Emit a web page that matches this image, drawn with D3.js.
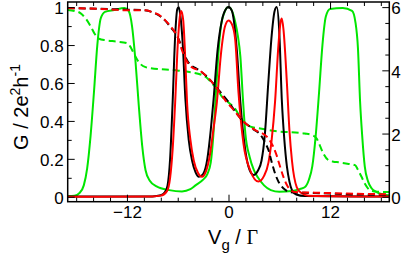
<!DOCTYPE html>
<html>
<head>
<meta charset="utf-8">
<script src="https://cdn.jsdelivr.net/npm/d3@7"></script>
<style>
  body { margin: 0; background: #fff; }
  text { font-family: "Liberation Sans", Arial, sans-serif; fill: #000; }
</style>
</head>
<body>
<svg id="chart" width="403" height="262"></svg>
<script>
// x ticks and labels
const xMajorTicks = [-12, 0, 12];
const xMinorTicks = [-18, -16, -14, -10, -8, -6, -4, -2, 2, 4, 6, 8, 10, 14, 16, 18];
const yLeftTicks = [0, 0.2, 0.4, 0.6, 0.8, 1];
const yLeftLabels = ['0', '0.2', '0.4', '0.6', '0.8', '1'];
const yRightTicks = [0, 2, 4, 6];

// solid curves: conductance G (left axis), [Vg, G]
const greenSolid = [[-19,0.004],[-18.2,0.006],[-17.6,0.02],[-17.1,0.06],[-16.7,0.15],[-16.3,0.32],[-15.9,0.55],
  [-15.5,0.8],[-15.1,0.94],[-14.6,0.975],[-13.5,0.985],[-12.3,0.995],[-11.8,0.98],[-11.4,0.9],[-11.0,0.72],
  [-10.6,0.48],[-10.2,0.27],[-9.8,0.14],[-9.3,0.085],[-8.5,0.055],[-7,0.035],[-5.5,0.028],[-4.5,0.04],
  [-3.9,0.06],[-3,0.09],[-2.5,0.12],[-2.1,0.18],[-1.8,0.32],[-1.55,0.5],[-1.25,0.72],[-0.95,0.88],[-0.5,0.97],
  [0,1.0],[0.5,0.97],[0.8,0.92],[1.1,0.85],[1.4,0.74],[1.7,0.52],[2.0,0.33],[2.5,0.21],[3,0.14],[3.5,0.1],
  [4.2,0.06],[5,0.035],[6,0.026],[7.5,0.03],[8.5,0.042],[9.0,0.05],[9.5,0.09],[9.9,0.16],[10.3,0.32],
  [10.7,0.55],[11.1,0.8],[11.5,0.95],[12,0.99],[13.5,0.995],[14.6,0.98],[15.0,0.92],[15.3,0.78],[15.55,0.5],
  [15.8,0.32],[16.1,0.16],[16.5,0.08],[16.9,0.045],[17.5,0.025],[18.3,0.012],[19,0.008]];

const blackSolid = [[-19,0.001],[-9,0.002],[-8,0.008],[-7.5,0.025],[-7.2,0.06],[-6.9,0.2],[-6.6,0.5],
  [-6.3,0.85],[-6.05,0.99],[-5.9,1.0],[-5.7,0.96],[-5.4,0.8],[-5.1,0.52],[-4.7,0.3],[-4.3,0.19],[-3.9,0.13],
  [-3.5,0.105],[-3.0,0.12],[-2.5,0.2],[-2.1,0.35],[-1.77,0.51],[-1.3,0.77],[-0.78,0.93],[-0.3,0.99],[0,1.0],
  [0.4,0.98],[0.99,0.77],[1.38,0.51],[1.97,0.25],[2.5,0.14],[2.95,0.115],[3.5,0.14],[3.9,0.19],[4.3,0.33],
  [4.7,0.6],[5.1,0.85],[5.45,0.98],[5.7,1.0],[6.0,0.87],[6.3,0.51],[6.6,0.3],[6.9,0.16],[7.2,0.08],
  [7.5,0.035],[8,0.012],[9,0.004],[19,0.001]];

const redSolid = [[-19,0.0],[-9,0.002],[-8,0.006],[-7.27,0.03],[-6.9,0.1],[-6.6,0.25],[-6.3,0.5],[-6.0,0.8],
  [-5.75,0.95],[-5.58,0.98],[-5.35,0.93],[-5.1,0.72],[-4.9,0.5],[-4.5,0.3],[-4.1,0.19],[-3.6,0.125],
  [-3.14,0.105],[-2.7,0.13],[-2.2,0.22],[-1.8,0.35],[-1.37,0.5],[-0.9,0.75],[-0.4,0.9],[0,0.93],[0.4,0.91],
  [0.79,0.83],[1.18,0.55],[1.77,0.28],[2.56,0.14],[3.54,0.08],[4.2,0.11],[4.72,0.18],[5.1,0.3],[5.5,0.5],
  [5.9,0.8],[6.15,0.92],[6.3,0.94],[6.5,0.88],[6.9,0.6],[7.2,0.35],[7.5,0.19],[8.07,0.05],[8.6,0.02],
  [9.5,0.006],[19,0.001]];

// dashed curves: occupation (right axis), [Vg, n]
const greenDashed = [[-19,5.91],[-18.2,5.88],[-17.5,5.81],[-16.9,5.65],[-16.3,5.4],[-15.8,5.15],[-15.3,5.0],
  [-14.5,4.95],[-13.2,4.91],[-12,4.86],[-11.6,4.75],[-11.2,4.54],[-10.8,4.34],[-10.4,4.2],[-9.8,4.1],
  [-9.2,4.07],[-5.9,3.99],[-3.1,3.85],[-2.5,3.75],[-1.96,3.59],[-1.3,3.38],[-0.78,3.17],[0,2.98],[0.79,2.78],
  [1.4,2.52],[1.97,2.32],[2.6,2.22],[3.54,2.17],[5.5,2.08],[9.0,2.0],[9.8,1.96],[10.4,1.85],[10.8,1.62],
  [11.2,1.37],[11.8,1.16],[12.4,1.11],[13,1.09],[14.2,1.04],[14.95,1.0],[15.3,0.85],[15.7,0.64],[16.1,0.42],
  [16.5,0.26],[17,0.18],[17.5,0.16],[19,0.15]];

const redDashed = [[-19,5.97],[-14,5.93],[-12,5.9],[-9.8,5.9],[-9,5.84],[-8.26,5.76],[-7.47,5.58],
  [-6.68,5.34],[-6.2,5.15],[-5.9,4.98],[-5.6,4.72],[-5.3,4.5],[-4.72,4.2],[-4.1,4.06],[-3.54,4.01],
  [-2.36,3.75],[-1.37,3.43],[-0.4,3.06],[0.79,2.69],[1.77,2.38],[3.15,2.11],[4.53,1.9],[4.95,1.75],
  [5.3,1.58],[5.7,1.3],[6.1,0.95],[6.5,0.62],[6.9,0.37],[7.3,0.22],[7.67,0.16],[8.5,0.14],[10.2,0.13],
  [14,0.1],[19,0.08]];

const blackDashed = [[-19,5.97],[-12,5.92],[-10,5.9],[-9,5.84],[-8.3,5.75],[-7.5,5.58],[-6.8,5.35],
  [-6.3,5.18],[-6.0,5.05],[-5.7,4.86],[-5.3,4.55],[-4.9,4.32],[-4.4,4.15],[-3.93,4.08],[-3.2,3.95],
  [-2.36,3.75],[-1.18,3.38],[0,3.0],[0.79,2.7],[1.58,2.43],[2.76,2.17],[3.94,1.9],[4.35,1.7],[4.72,1.48],
  [5.1,1.1],[5.5,0.74],[5.9,0.48],[6.3,0.32],[6.7,0.22],[7.08,0.16],[8,0.13],[10,0.12],[14,0.08],[19,0.06]];

const GREEN = '#00e600', RED = '#ff0000', BLACK = '#000000';

const svg = d3.select('#chart');
const mLeft = 67.7, mRight = 389.3, mTop = 2, mBottom = 201.7;

const x = d3.scaleLinear().domain([-19, 19]).range([mLeft, mRight]);
const yL = d3.scaleLinear().domain([-0.026, 1.027]).range([mBottom, mTop]);
const yR = d3.scaleLinear().domain([-0.156, 6.162]).range([mBottom, mTop]);

svg.append('defs').append('clipPath').attr('id', 'clip')
  .append('rect').attr('x', mLeft).attr('y', mTop).attr('width', mRight - mLeft).attr('height', mBottom - mTop);

const plot = svg.append('g').attr('clip-path', 'url(#clip)');

function drawLine(data, yScale, color, dashed) {
  const line = d3.line()
    .x(d => x(d[0]))
    .y(d => yScale(d[1]))
    .curve(d3.curveMonotoneX);
  plot.append('path')
    .datum(data)
    .attr('d', line)
    .attr('fill', 'none')
    .attr('stroke', color)
    .attr('stroke-width', 2)
    .attr('stroke-dasharray', dashed ? '7,4' : null);
}

drawLine(greenSolid, yL, GREEN, false);
drawLine(greenDashed, yR, GREEN, true);
drawLine(blackSolid, yL, BLACK, false);
drawLine(redSolid, yL, RED, false);
drawLine(blackDashed, yR, BLACK, true);
drawLine(redDashed, yR, RED, true);

// axes with inward ticks
function styleAxis(g) {
  g.select('.domain').remove();
  g.selectAll('.tick line').attr('stroke', '#000').attr('stroke-width', 1);
  g.selectAll('.tick text').style('font-size', '17px').style('font-family', '"Liberation Sans", Arial, sans-serif');
}

svg.append('g').attr('transform', `translate(0,${mBottom})`)
  .call(d3.axisBottom(x).tickValues(xMajorTicks).tickSize(-7).tickPadding(4).tickFormat(d3.format('d')))
  .call(styleAxis);
svg.append('g').attr('transform', `translate(0,${mBottom})`)
  .call(d3.axisBottom(x).tickValues(xMinorTicks).tickSize(-4).tickFormat(''))
  .call(styleAxis);
svg.append('g').attr('transform', `translate(0,${mTop})`)
  .call(d3.axisTop(x).tickValues(xMajorTicks).tickSize(-7).tickFormat(''))
  .call(styleAxis);
svg.append('g').attr('transform', `translate(0,${mTop})`)
  .call(d3.axisTop(x).tickValues(xMinorTicks).tickSize(-4).tickFormat(''))
  .call(styleAxis);

svg.append('g').attr('transform', `translate(${mLeft},0)`)
  .call(d3.axisLeft(yL).tickValues(yLeftTicks).tickSize(-7).tickPadding(4)
    .tickFormat((d, i) => yLeftLabels[i]))
  .call(styleAxis)
  .call(g => g.selectAll('.tick text').attr('dy', '0.4em'));
svg.append('g').attr('transform', `translate(${mLeft},0)`)
  .call(d3.axisLeft(yL).tickValues([0.1, 0.3, 0.5, 0.7, 0.9]).tickSize(-4).tickFormat(''))
  .call(styleAxis);

svg.append('g').attr('transform', `translate(${mRight},0)`)
  .call(d3.axisRight(yR).tickValues(yRightTicks).tickSize(-7).tickPadding(2).tickFormat(d3.format('d')))
  .call(styleAxis)
  .call(g => g.selectAll('.tick text').attr('dy', '0.4em'));
svg.append('g').attr('transform', `translate(${mRight},0)`)
  .call(d3.axisRight(yR).tickValues([0.5, 1, 1.5, 2.5, 3, 3.5, 4.5, 5, 5.5]).tickSize(-4).tickFormat(''))
  .call(styleAxis);

// frame
svg.append('rect')
  .attr('x', mLeft).attr('y', mTop)
  .attr('width', mRight - mLeft).attr('height', mBottom - mTop)
  .attr('fill', 'none').attr('stroke', '#000').attr('stroke-width', 1.5);

// axis titles
const xt = svg.append('text')
  .attr('x', 233).attr('y', 243.5)
  .attr('text-anchor', 'middle')
  .style('font-size', '20px');
xt.append('tspan').text('V');
xt.append('tspan').attr('dy', 6).style('font-size', '15px').text('g');
xt.append('tspan').attr('dy', -6).text(' / ');
xt.append('tspan').style('font-family', '"Liberation Serif", "Times New Roman", serif').text('Γ');

const yt = svg.append('text')
  .attr('transform', 'translate(27.5,107) rotate(-90)')
  .attr('text-anchor', 'middle')
  .style('font-size', '20px');
yt.append('tspan').text('G / 2e');
yt.append('tspan').attr('dy', -8).style('font-size', '14px').text('2');
yt.append('tspan').attr('dy', 8).text('h');
yt.append('tspan').attr('dy', -8).style('font-size', '14px').text('-1');
</script>
</body>
</html>
